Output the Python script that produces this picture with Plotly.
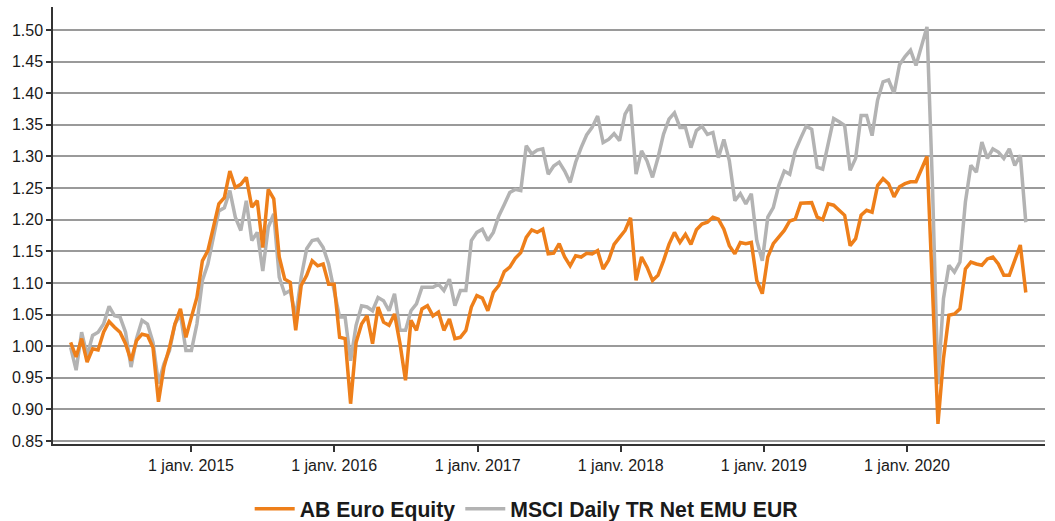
import pandas as pd
import plotly.graph_objects as go

# Biweekly observation dates (Feb 2014 -> Oct 2020)
dates = pd.date_range("2014-02-28", periods=175, freq="14D")

ab_euro_equity = [
    1.006, 0.983, 1.012, 0.975, 0.996, 0.994, 1.022, 1.039, 1.030, 1.022,
    1.004, 0.977, 1.009, 1.019, 1.017, 0.998, 0.912, 0.967, 0.998, 1.035,
    1.059, 1.014, 1.046, 1.077, 1.135, 1.151, 1.188, 1.225, 1.235, 1.277,
    1.251, 1.256, 1.267, 1.220, 1.230, 1.156, 1.248, 1.233, 1.141, 1.106,
    1.101, 1.025, 1.096, 1.112, 1.135, 1.127, 1.130, 1.098, 1.098, 1.014,
    1.012, 0.909, 1.006, 1.035, 1.048, 1.004, 1.062, 1.038, 1.033, 1.051,
    1.004, 0.946, 1.041, 1.025, 1.059, 1.064, 1.048, 1.054, 1.025, 1.043,
    1.012, 1.014, 1.025, 1.062, 1.080, 1.076, 1.056, 1.085, 1.096, 1.118,
    1.125, 1.139, 1.148, 1.172, 1.184, 1.180, 1.185, 1.146, 1.147, 1.162,
    1.141, 1.127, 1.143, 1.141, 1.147, 1.146, 1.151, 1.122, 1.136, 1.161,
    1.172, 1.183, 1.203, 1.104, 1.141, 1.125, 1.104, 1.112, 1.135, 1.161,
    1.180, 1.164, 1.177, 1.161, 1.184, 1.193, 1.196, 1.204, 1.201, 1.185,
    1.159, 1.146, 1.164, 1.162, 1.164, 1.104, 1.083, 1.141, 1.162, 1.172,
    1.183, 1.198, 1.201, 1.226, 1.227, 1.227, 1.204, 1.200, 1.225, 1.223,
    1.215, 1.207, 1.159, 1.170, 1.207, 1.215, 1.212, 1.254, 1.265, 1.257,
    1.236, 1.252, 1.257, 1.260, 1.260, 1.281, 1.300, 1.091, 0.877, 0.980,
    1.049, 1.051, 1.059, 1.122, 1.133, 1.130, 1.128, 1.138, 1.141, 1.130,
    1.112, 1.112, 1.136, 1.160, 1.085,
]

msci_emu = [
    0.998, 0.962, 1.022, 0.985, 1.017, 1.022, 1.035, 1.063, 1.048, 1.046,
    1.022, 0.967, 1.012, 1.041, 1.035, 1.006, 0.941, 0.972, 0.993, 1.035,
    1.051, 0.993, 0.993, 1.035, 1.104, 1.130, 1.172, 1.214, 1.219, 1.246,
    1.204, 1.183, 1.230, 1.167, 1.180, 1.119, 1.188, 1.209, 1.109, 1.083,
    1.088, 1.046, 1.109, 1.154, 1.167, 1.169, 1.156, 1.130, 1.088, 1.046,
    1.046, 0.977, 1.033, 1.064, 1.062, 1.056, 1.077, 1.072, 1.056, 1.083,
    1.025, 1.025, 1.056, 1.067, 1.093, 1.093, 1.093, 1.098, 1.088, 1.106,
    1.064, 1.088, 1.088, 1.167, 1.180, 1.185, 1.167, 1.180, 1.206, 1.224,
    1.243, 1.248, 1.246, 1.317, 1.304, 1.310, 1.312, 1.272, 1.285, 1.291,
    1.277, 1.259, 1.291, 1.314, 1.334, 1.346, 1.364, 1.322, 1.327, 1.336,
    1.325, 1.367, 1.382, 1.272, 1.309, 1.293, 1.267, 1.298, 1.335, 1.359,
    1.369, 1.346, 1.346, 1.314, 1.341, 1.348, 1.335, 1.338, 1.298, 1.327,
    1.293, 1.230, 1.241, 1.225, 1.241, 1.167, 1.135, 1.204, 1.219, 1.254,
    1.277, 1.272, 1.309, 1.329, 1.348, 1.343, 1.283, 1.280, 1.323, 1.360,
    1.355, 1.349, 1.278, 1.297, 1.365, 1.365, 1.333, 1.389, 1.418, 1.421,
    1.400, 1.445, 1.458, 1.468, 1.444, 1.476, 1.505, 1.254, 0.940, 1.075,
    1.128, 1.117, 1.133, 1.228, 1.286, 1.275, 1.323, 1.297, 1.312, 1.307,
    1.297, 1.312, 1.286, 1.302, 1.196,
]

tick_dates = ["2015-01-01", "2016-01-01", "2017-01-01", "2018-01-01", "2019-01-01", "2020-01-01"]
tick_labels = ["1 janv. 2015", "1 janv. 2016", "1 janv. 2017", "1 janv. 2018", "1 janv. 2019", "1 janv. 2020"]

ORANGE = "#EE7F1A"
GREY = "#B3B3B3"
AXIS = "#333333"
FONT = "Liberation Sans, Arial, sans-serif"

fig = go.Figure()
fig.add_trace(go.Scatter(
    x=dates, y=msci_emu, mode="lines", name="MSCI Daily TR Net EMU EUR",
    line=dict(color=GREY, width=3.5), legendrank=2,
))
fig.add_trace(go.Scatter(
    x=dates, y=ab_euro_equity, mode="lines", name="AB Euro Equity",
    line=dict(color=ORANGE, width=3.5), legendrank=1,
))

fig.update_layout(
    width=1055, height=521,
    margin=dict(l=53, r=10, t=7, b=77, autoexpand=False),
    paper_bgcolor="white", plot_bgcolor="white",
    font=dict(family=FONT, size=16, color="#1a1a1a"),
    showlegend=True,
    legend=dict(
        orientation="h", x=0.477, xanchor="center",
        yref="container", y=0.023, yanchor="middle",
        font=dict(family=FONT, size=21.2, color="#1a1a1a", weight="bold"),
        itemwidth=40, traceorder="normal",
    ),
)

fig.update_xaxes(
    type="date", range=["2014-01-14", "2020-12-18"],
    tickvals=tick_dates, ticktext=tick_labels,
    showgrid=False, zeroline=False, automargin=False,
    showline=True, linecolor=AXIS, linewidth=1.5,
    ticks="outside", ticklen=6, tickwidth=1.5, tickcolor=AXIS,
    tickfont=dict(family=FONT, size=16, color="#1a1a1a"),
)

fig.update_yaxes(
    range=[0.8453, 1.5364], tick0=0.85, dtick=0.05, tickformat=".2f",
    showgrid=True, gridcolor="#9a9a9a", gridwidth=1.5, zeroline=False,
    automargin=False,
    showline=True, linecolor=AXIS, linewidth=1.5,
    ticks="outside", ticklen=5, tickwidth=1.5, tickcolor=AXIS,
    tickfont=dict(family=FONT, size=16, color="#1a1a1a"),
)

fig.write_html(
    "out.html",
    config={"displayModeBar": False},
    post_script="document.body.style.margin='0';document.body.style.overflow='hidden';",
)
